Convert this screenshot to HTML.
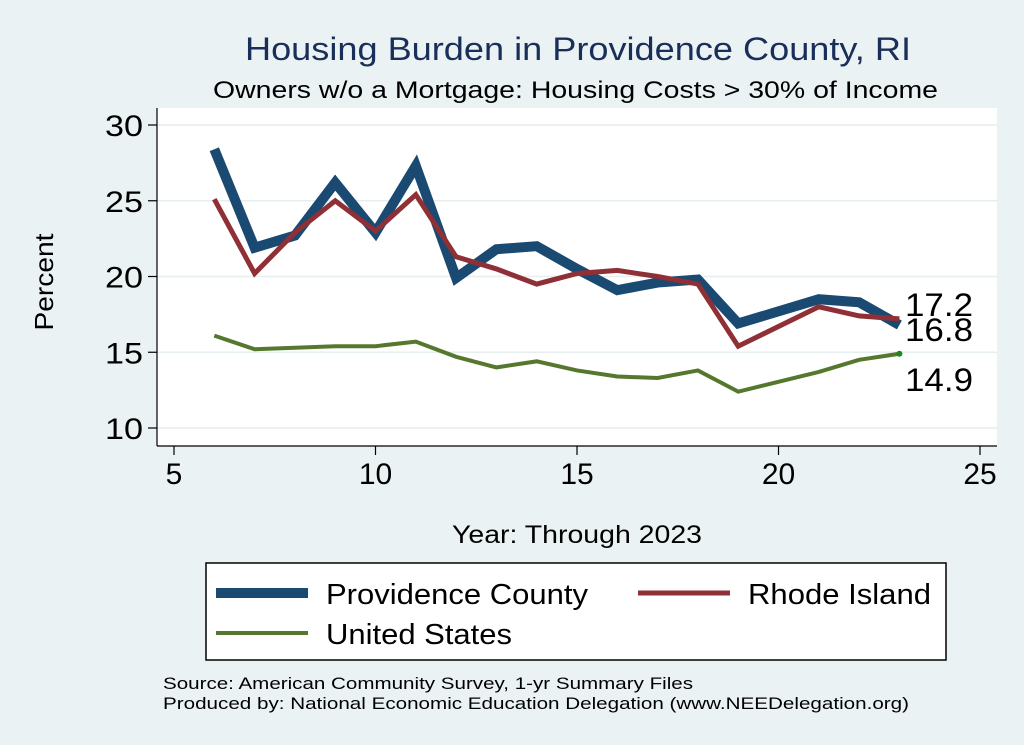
<!DOCTYPE html>
<html><head><meta charset="utf-8"><style>
html,body{margin:0;padding:0;background:#eaf2f3;}
svg{display:block;font-family:"Liberation Sans",Arial,sans-serif;}
</style></head><body>
<svg id="chart" width="1024" height="745" viewBox="0 0 1024 745">
<rect x="0" y="0" width="1024" height="745" fill="#eaf2f3"/>
<text x="245" y="60" font-size="32" textLength="666" lengthAdjust="spacingAndGlyphs" fill="#1a2e5a">Housing Burden in Providence County, RI</text>
<text x="213" y="98" font-size="24" textLength="725" lengthAdjust="spacingAndGlyphs" fill="#000">Owners w/o a Mortgage: Housing Costs &gt; 30% of Income</text>
<rect x="157" y="108" width="840" height="338" fill="#fff"/>
<g id="grid"></g>
<g id="axes"></g>
<g id="series"></g>
<text x="53" y="282" text-anchor="middle" font-size="26" textLength="97" lengthAdjust="spacingAndGlyphs" transform="rotate(-90 53 282)">Percent</text>
<text x="452" y="543" font-size="25" textLength="250" lengthAdjust="spacingAndGlyphs">Year: Through 2023</text>
<g>
<rect x="206" y="563" width="740" height="97" fill="#fff" stroke="#000" stroke-width="1.5"/>
<g>
<line x1="216" y1="593" x2="308" y2="593" stroke="#1a4a72" stroke-width="10"/>
<text x="326" y="604" font-size="29" textLength="262" lengthAdjust="spacingAndGlyphs">Providence County</text></g>
<g>
<line x1="638" y1="593" x2="730" y2="593" stroke="#8f2f36" stroke-width="5"/>
<text x="748" y="604" font-size="29" textLength="183" lengthAdjust="spacingAndGlyphs">Rhode Island</text></g>
<g>
<line x1="216" y1="633" x2="308" y2="633" stroke="#55782e" stroke-width="4"/>
<text x="326" y="644" font-size="29" textLength="186" lengthAdjust="spacingAndGlyphs">United States</text></g>
</g>
<text x="163" y="689" font-size="17" textLength="530" lengthAdjust="spacingAndGlyphs">Source: American Community Survey, 1-yr Summary Files</text>
<text x="163" y="709" font-size="17" textLength="746" lengthAdjust="spacingAndGlyphs">Produced by: National Economic Education Delegation (www.NEEDelegation.org)</text>
</svg>
<script>
const years=[6,7,8,9,10,11,12,13,14,15,16,17,18,19,21,22,23];
const providence=[28.4,21.9,22.7,26.2,22.9,27.3,19.9,21.8,22.0,20.5,19.1,19.6,19.8,16.9,18.5,18.3,16.8];
const rhodeIsland=[25.1,20.2,22.9,25.0,23.0,25.4,21.3,20.5,19.5,20.2,20.4,20.0,19.5,15.4,18.0,17.4,17.2];
const unitedStates=[16.1,15.2,15.3,15.4,15.4,15.7,14.7,14.0,14.4,13.8,13.4,13.3,13.8,12.4,13.7,14.5,14.9];
const xTicks=[5,10,15,20,25];
const yTicks=[10,15,20,25,30];
const NS="http://www.w3.org/2000/svg";
function xs(v){return 174+(v-5)*(980-174)/20;}
function ys(v){return 428-(v-10)*(428-125)/20;}
function mk(tag,attrs,parent){const e=document.createElementNS(NS,tag);for(const k in attrs)e.setAttribute(k,attrs[k]);parent.appendChild(e);return e;}
const grid=document.getElementById('grid'),axes=document.getElementById('axes'),ser=document.getElementById('series');
yTicks.forEach(t=>{
 const g=mk('line',{x1:157,x2:997,y1:ys(t),y2:ys(t),stroke:'#e6eef0','stroke-width':1.5},grid);
 
 
 const tk=mk('line',{x1:148,x2:157,y1:ys(t),y2:ys(t),stroke:'#000','stroke-width':1.2},axes);
 
 
 const lb=mk('text',{x:143,y:ys(t)+11,'text-anchor':'end','font-size':30,textLength:38,lengthAdjust:'spacingAndGlyphs'},axes);
 lb.textContent=t;
 
 
});
xTicks.forEach(t=>{
 const tk=mk('line',{x1:xs(t),x2:xs(t),y1:446,y2:455,stroke:'#000','stroke-width':1.2},axes);
 
 
 const lb=mk('text',{x:xs(t),y:484,'text-anchor':'middle','font-size':30},axes);
 lb.textContent=t;
 
 
});
const ya=mk('line',{x1:157,x2:157,y1:108,y2:446,stroke:'#000','stroke-width':1.2},axes);


const xa=mk('line',{x1:157,x2:997,y1:446,y2:446,stroke:'#000','stroke-width':1.2},axes);


function line(vals,color,w,name){
 const p=mk('polyline',{points:years.map((y,i)=>xs(y)+','+ys(vals[i])).join(' '),fill:'none',stroke:color,'stroke-width':w,'stroke-linejoin':'miter'},ser);
 
 
}
line(providence,'#1a4a72',10,'providence-line');
line(rhodeIsland,'#8f2f36',5,'rhode-island-line');
line(unitedStates,'#55782e',4,'united-states-line');
const last=years.length-1;
const dot=mk('circle',{cx:xs(years[last]),cy:ys(unitedStates[last]),r:3,fill:'#1a8a1a'},ser);


[[rhodeIsland[last],-3,'ri-end-label'],[providence[last],16,'providence-end-label'],[unitedStates[last],37,'us-end-label']].forEach(([v,off,n])=>{
 const base = n==='ri-end-label'?ys(rhodeIsland[last]):n==='providence-end-label'?ys(providence[last]):ys(unitedStates[last]);
 const t=mk('text',{x:905,y:base+off,'font-size':32,textLength:68,lengthAdjust:'spacingAndGlyphs'},ser);
 t.textContent=v.toFixed(1);
 
 
});
</script>
</body></html>
